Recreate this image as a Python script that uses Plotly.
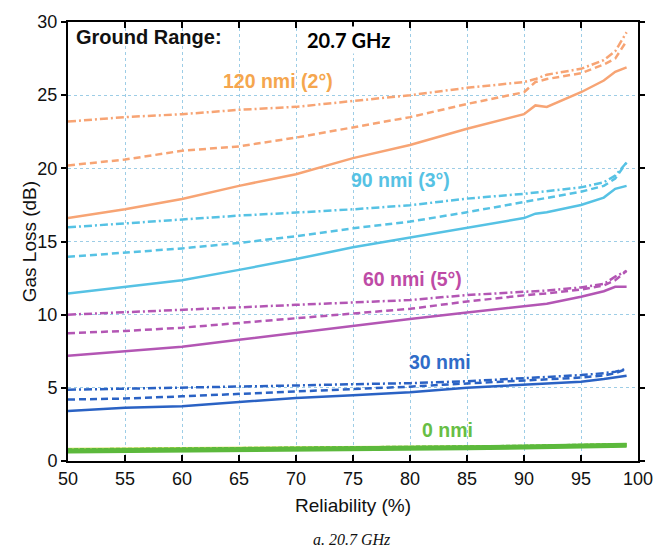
import plotly.graph_objects as go

# Reliability (%) sample points
x = [50, 55, 60, 65, 70, 75, 80, 85, 90, 91, 92, 95, 97, 98, 99]

# 120 nmi (2 deg) - orange
o_solid = [16.6, 17.2, 17.9, 18.8, 19.6, 20.7, 21.6, 22.7, 23.7, 24.3, 24.2, 25.2, 26.0, 26.6, 26.9]
o_dash = [20.2, 20.6, 21.2, 21.5, 22.1, 22.8, 23.5, 24.4, 25.2, 25.9, 26.1, 26.5, 27.1, 27.5, 28.7]
o_dashdot = [23.2, 23.5, 23.7, 24.0, 24.2, 24.6, 25.0, 25.5, 25.9, 26.1, 26.4, 26.8, 27.4, 28.0, 29.3]

# 90 nmi (3 deg) - cyan
c_solid = [11.45, 11.9, 12.35, 13.06, 13.8, 14.6, 15.25, 15.9, 16.6, 16.9, 17.0, 17.5, 18.0, 18.6, 18.8]
c_dash = [13.95, 14.25, 14.53, 14.9, 15.36, 15.9, 16.36, 17.0, 17.7, 17.8, 17.95, 18.4, 18.8, 19.3, 20.4]
c_dashdot = [15.97, 16.25, 16.48, 16.77, 16.98, 17.2, 17.48, 17.93, 18.26, 18.35, 18.45, 18.7, 19.05, 19.5, 20.4]

# 60 nmi (5 deg) - magenta
m_solid = [7.2, 7.48, 7.81, 8.28, 8.77, 9.22, 9.7, 10.15, 10.56, 10.65, 10.75, 11.23, 11.6, 11.9, 11.9]
m_dash = [8.73, 8.89, 9.11, 9.44, 9.78, 10.07, 10.4, 10.9, 11.34, 11.4, 11.45, 11.72, 12.0, 12.35, 13.0]
m_dashdot = [10.0, 10.15, 10.33, 10.5, 10.67, 10.83, 11.0, 11.34, 11.56, 11.6, 11.65, 11.86, 12.1, 12.6, 13.0]

# 30 nmi - blue
b_solid = [3.42, 3.64, 3.75, 4.04, 4.31, 4.49, 4.7, 5.0, 5.2, 5.23, 5.27, 5.42, 5.6, 5.7, 5.83]
b_dash = [4.2, 4.27, 4.42, 4.58, 4.76, 4.93, 5.08, 5.3, 5.5, 5.53, 5.56, 5.7, 5.85, 6.0, 6.3]
b_dashdot = [4.87, 4.93, 5.02, 5.09, 5.16, 5.25, 5.32, 5.45, 5.65, 5.68, 5.72, 5.87, 6.0, 6.1, 6.3]

# 0 nmi - green
g_solid = [0.68, 0.7, 0.72, 0.75, 0.78, 0.82, 0.86, 0.9, 0.95, 0.96, 0.97, 1.0, 1.03, 1.05, 1.07]
g_dash = [0.74, 0.76, 0.78, 0.8, 0.83, 0.86, 0.9, 0.94, 0.98, 0.99, 1.0, 1.03, 1.06, 1.08, 1.1]
g_dashdot = [0.8, 0.82, 0.84, 0.86, 0.88, 0.9, 0.93, 0.96, 1.0, 1.01, 1.02, 1.05, 1.08, 1.1, 1.12]

x_ticks = [50, 55, 60, 65, 70, 75, 80, 85, 90, 95, 100]
y_ticks = [0, 5, 10, 15, 20, 25, 30]

ORANGE = "#F7A474"
CYAN = "#56C2E4"
MAGENTA = "#B356B4"
BLUE = "#2A62C4"
GREEN = "#5CB93C"

DASH = "7px,4px"
DASHDOT = "8px,3px,2px,3px"

groups = [
    (ORANGE, o_solid, o_dash, o_dashdot),
    (CYAN, c_solid, c_dash, c_dashdot),
    (MAGENTA, m_solid, m_dash, m_dashdot),
    (BLUE, b_solid, b_dash, b_dashdot),
]

fig = go.Figure()
for col, s, d, dd in groups:
    fig.add_trace(go.Scatter(x=x, y=dd, mode="lines", line=dict(color=col, width=2.5, dash=DASHDOT), showlegend=False))
    fig.add_trace(go.Scatter(x=x, y=d, mode="lines", line=dict(color=col, width=2.5, dash=DASH), showlegend=False))
    fig.add_trace(go.Scatter(x=x, y=s, mode="lines", line=dict(color=col, width=2.5), showlegend=False))

fig.add_trace(go.Scatter(x=x, y=g_dashdot, mode="lines", line=dict(color="#D8E060", width=3), showlegend=False))
fig.add_trace(go.Scatter(x=x, y=g_dash, mode="lines", line=dict(color=GREEN, width=4, dash="4px,2px"), showlegend=False))
fig.add_trace(go.Scatter(x=x, y=g_solid, mode="lines", line=dict(color=GREEN, width=5), showlegend=False))

tickfont = dict(family="Liberation Sans, Arial", size=18, color="#111")
fig.update_xaxes(
    range=[50, 100], tickvals=x_ticks, ticktext=[str(v) for v in x_ticks],
    showgrid=True, gridcolor="#9DCDE6", griddash="dot", gridwidth=1,
    showline=True, linecolor="black", linewidth=2, mirror="ticks",
    ticks="inside", ticklen=6, tickwidth=2, tickcolor="black",
    tickfont=tickfont, zeroline=False,
    title=dict(text="Reliability (%)", font=dict(family="Liberation Sans, Arial", size=19, color="#111"), standoff=11),
)
fig.update_yaxes(
    range=[0, 30], tickvals=y_ticks, ticktext=[str(v) for v in y_ticks],
    showgrid=True, gridcolor="#9DCDE6", griddash="dot", gridwidth=1,
    showline=True, linecolor="black", linewidth=2, mirror="ticks",
    ticks="outside", ticklen=5, tickwidth=2, tickcolor="black",
    tickfont=tickfont, zeroline=False,
)

fig.add_annotation(xref="paper", yref="paper", x=-0.067, y=0.5, xanchor="center", yanchor="middle",
                   textangle=-90, text="Gas Loss (dB)", showarrow=False,
                   font=dict(family="Liberation Sans, Arial", size=19, color="#111"))

labels = [
    ("120 nmi (2°)", 68.4, 26.0, "#F5A64E"),
    ("90 nmi (3°)", 79.2, 19.2, CYAN),
    ("60 nmi (5°)", 80.2, 12.45, "#BE4BA6"),
    ("30 nmi", 82.6, 6.75, "#2F6CC8"),
    ("0 nmi", 83.3, 2.1, "#67BE45"),
]
for txt, lx, ly, col in labels:
    fig.add_annotation(x=lx, y=ly, text=f"<b>{txt}</b>", showarrow=False,
                       font=dict(family="Liberation Sans, Arial", size=19.5, color=col))

fig.add_annotation(x=50.55, y=28.95, xanchor="left", text="<b>Ground Range:</b>", showarrow=False,
                   font=dict(family="Liberation Sans, Arial", size=20, color="#111"))
fig.add_annotation(x=70.8, y=28.75, xanchor="left", text="<b>20.7 GHz</b>", showarrow=False,
                   bgcolor="white", font=dict(family="Lato, Open Sans", size=20, color="black"))
fig.add_annotation(xref="paper", yref="paper", x=0.498, y=-0.179, yanchor="middle",
                   text="<i>a. 20.7 GHz</i>", showarrow=False,
                   font=dict(family="Liberation Serif, Times New Roman", size=16, color="#111"))

fig.update_layout(
    width=671, height=553,
    margin=dict(l=68, r=33, t=13, b=92),
    plot_bgcolor="white", paper_bgcolor="white",
)
fig.write_html("out.html")
